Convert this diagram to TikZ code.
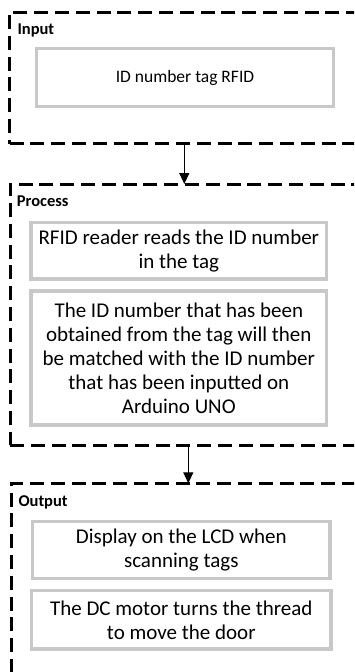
\documentclass[tikz,border=0pt]{standalone}
\usepackage{fontspec}
\setmainfont{Carlito}
\usetikzlibrary{arrows.meta}
\definecolor{box-grau}{HTML}{C8C8C8}
\definecolor{rahmen-schwarz}{HTML}{000000}

\begin{document}
\begin{tikzpicture}[x=1pt, y=-1pt,
    frame/.style={draw=rahmen-schwarz, line width=3pt, dash pattern=on 14pt off 6.8pt,
        minimum width=380pt, inner sep=0pt, outer sep=0pt, anchor=north west},
    boxlbl/.style={font=\bfseries\fontsize{16.5}{19}\selectfont, anchor=base west, inner sep=0pt},
    stepbox/.style={draw=box-grau, line width=3.3pt, align=center, inner sep=0pt,
        outer sep=0pt, font=\fontsize{21}{24}\selectfont},
    arrow/.style={line width=1.3pt, -{Triangle[length=11pt, width=10pt]}}]

\useasboundingbox (0,0) rectangle (354,672);
\clip (0,0) rectangle (354,672);

% Rahmen
\node[frame, minimum height=131.5pt] (input) at (9.5,12) {};
\node[frame, minimum height=261pt] (process) at (10,184) {};
\node[frame, minimum height=250pt] (output) at (11.5,483.3) {};

\node[boxlbl] (inlbl) at (17.3,34) {Input};
\node[boxlbl] (proclbl) at (16.7,206) {Process};
\node[boxlbl] (outlbl) at (18.3,506.7) {Output};

% Kaesten
\node[stepbox, minimum width=297pt, minimum height=58pt,
    font=\fontsize{17.5}{21}\selectfont] (rfid) at (185,77.5) {ID number tag RFID};

\node[stepbox, minimum width=295.7pt, minimum height=56.3pt] (reader) at (178.8,250.8)
    {RFID reader reads the ID number\\in the tag};
\node[stepbox, minimum width=295.7pt, minimum height=134pt] (match) at (178.8,358)
    {The ID number that has been\\obtained from the tag will then\\be matched with the ID number\\that has been inputted on\\Arduino UNO};

\node[stepbox, minimum width=297.3pt, minimum height=56.6pt] (lcd) at (181.3,550)
    {Display on the LCD when\\scanning tags};
\node[stepbox, minimum width=299.3pt, minimum height=58.3pt] (motor) at (181.3,619.8)
    {The DC motor turns the thread\\to move the door};

% Pfeile
\coordinate (pfeil1) at (184.3,0);
\coordinate (pfeil2) at (188.3,0);
\draw[arrow] (input.south -| pfeil1) -- (process.north -| pfeil1);
\draw[arrow] (process.south -| pfeil2) -- (output.north -| pfeil2);
\end{tikzpicture}
\end{document}
